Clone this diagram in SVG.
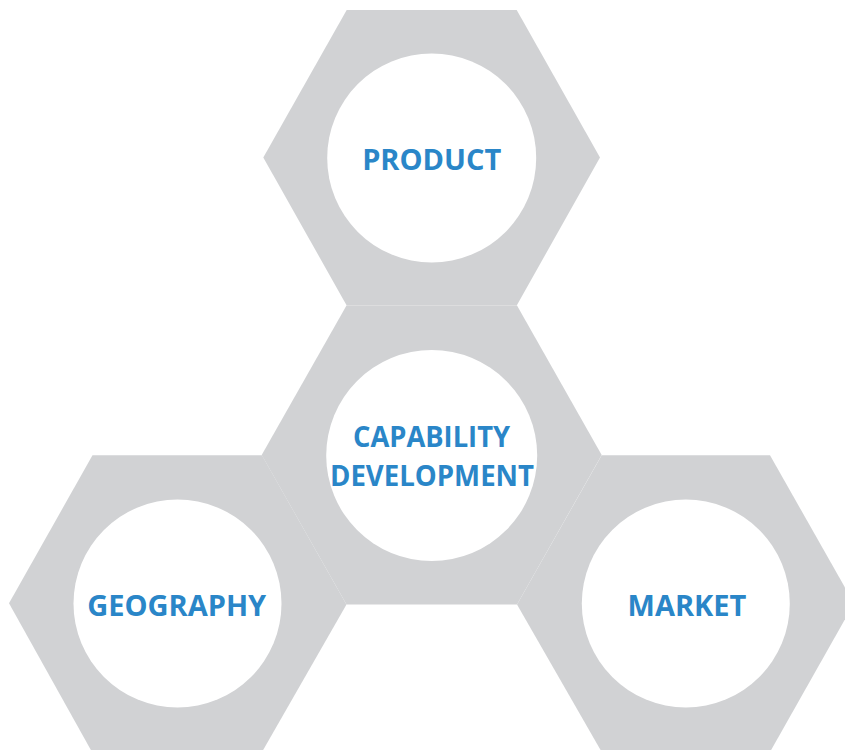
<svg xmlns="http://www.w3.org/2000/svg" width="845" height="750" viewBox="0 0 845 750">
  <style>
    .hex { fill: #d1d2d4; }
    .hole { fill: #ffffff; }
    .label { font-family: "Open Sans", "Liberation Sans", sans-serif; font-weight: 700; font-size: 29px; fill: #2a86c8; text-anchor: middle; }
  </style>
  <rect width="845" height="750" fill="#ffffff"/>

  <!-- Centre hexagon -->
  <g id="capability-development">
    <polygon class="hex" points="261.7,455 346.5,305.5 517,305.5 601.7,455 517,604.5 346.5,604.5"/>
    <circle class="hole" cx="431.7" cy="455.5" r="105.5"/>
    <text class="label" x="431.5" y="447" textLength="157" lengthAdjust="spacingAndGlyphs">CAPABILITY</text>
    <text class="label" x="432" y="486" textLength="204" lengthAdjust="spacingAndGlyphs">DEVELOPMENT</text>
  </g>

  <!-- Top hexagon -->
  <g id="product">
    <polygon class="hex" points="263.3,157.5 346.7,10 516.7,10 600,157.5 516.7,305.5 346.7,305.5"/>
    <circle class="hole" cx="431.7" cy="158" r="104.5"/>
    <text class="label" x="431.7" y="170">PRODUCT</text>
  </g>

  <!-- Lower-left hexagon -->
  <g id="geography">
    <polygon class="hex" points="9,603.3 92.5,455.3 262,455.3 346.5,604.5 262,752 92,752"/>
    <circle class="hole" cx="177.5" cy="603.5" r="104"/>
    <text class="label" x="176.7" y="615.7">GEOGRAPHY</text>
  </g>

  <!-- Lower-right hexagon -->
  <g id="market">
    <polygon class="hex" points="517,604.5 601.7,455.3 770,455.3 854,603.3 770,752 601.7,752"/>
    <circle class="hole" cx="685.8" cy="603.5" r="104"/>
    <text class="label" x="687" y="615.7">MARKET</text>
  </g>
</svg>
